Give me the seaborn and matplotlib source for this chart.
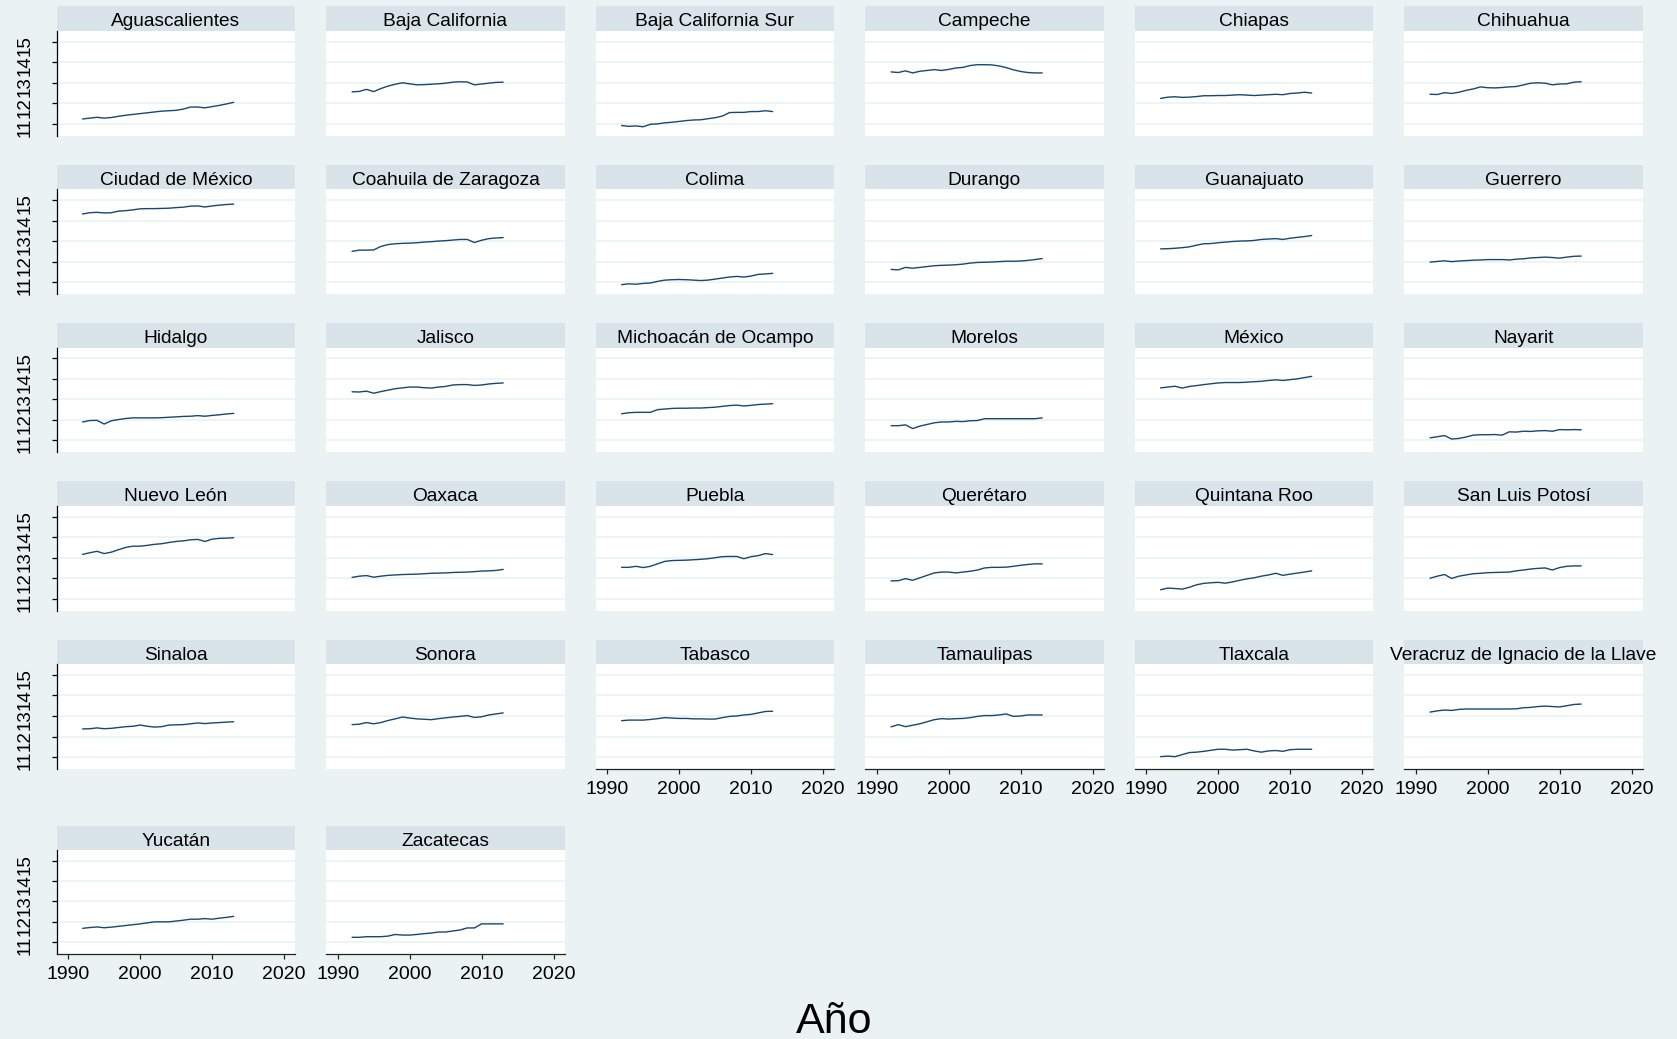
import pandas as pd
import matplotlib.pyplot as plt
from matplotlib.patches import Rectangle
import seaborn as sns

# Years on the x axis
anios = [1992, 1993, 1994, 1995, 1996, 1997, 1998, 1999, 2000, 2001, 2002,
         2003, 2004, 2005, 2006, 2007, 2008, 2009, 2010, 2011, 2012, 2013]

estados = ["Aguascalientes", "Baja California", "Baja California Sur", "Campeche",
           "Chiapas", "Chihuahua", "Ciudad de México", "Coahuila de Zaragoza",
           "Colima", "Durango", "Guanajuato", "Guerrero", "Hidalgo", "Jalisco",
           "Michoacán de Ocampo", "Morelos", "México", "Nayarit", "Nuevo León",
           "Oaxaca", "Puebla", "Querétaro", "Quintana Roo", "San Luis Potosí",
           "Sinaloa", "Sonora", "Tabasco", "Tamaulipas", "Tlaxcala",
           "Veracruz de Ignacio de la Llave", "Yucatán", "Zacatecas"]

# Values, one list per state (1992-2013)
aguascalientes = [11.24, 11.28, 11.32, 11.28, 11.31, 11.37, 11.42, 11.46, 11.50, 11.54, 11.58,
                  11.62, 11.64, 11.66, 11.72, 11.82, 11.82, 11.78, 11.84, 11.90, 11.97, 12.05]
baja_california = [12.56, 12.58, 12.68, 12.57, 12.72, 12.84, 12.93, 13.00, 12.95, 12.90, 12.91,
                   12.93, 12.95, 12.98, 13.03, 13.05, 13.04, 12.90, 12.94, 12.98, 13.02, 13.03]
baja_california_sur = [10.92, 10.88, 10.90, 10.86, 10.98, 11.00, 11.05, 11.08, 11.12, 11.16, 11.19,
                       11.20, 11.25, 11.30, 11.38, 11.55, 11.56, 11.56, 11.60, 11.60, 11.64, 11.60]
campeche = [13.53, 13.50, 13.58, 13.48, 13.56, 13.60, 13.64, 13.60, 13.65, 13.72, 13.75,
            13.84, 13.88, 13.88, 13.87, 13.82, 13.74, 13.63, 13.55, 13.50, 13.48, 13.48]
chiapas = [12.24, 12.30, 12.32, 12.29, 12.30, 12.33, 12.37, 12.37, 12.38, 12.38, 12.40,
           12.42, 12.40, 12.38, 12.40, 12.42, 12.44, 12.42, 12.48, 12.50, 12.54, 12.50]
chihuahua = [12.44, 12.43, 12.52, 12.48, 12.54, 12.63, 12.70, 12.80, 12.76, 12.75, 12.77,
             12.80, 12.82, 12.90, 12.98, 13.00, 12.98, 12.90, 12.94, 12.95, 13.03, 13.05]
ciudad_de_mexico = [14.32, 14.38, 14.40, 14.37, 14.38, 14.46, 14.48, 14.52, 14.57, 14.58, 14.58,
                    14.59, 14.60, 14.63, 14.65, 14.70, 14.71, 14.66, 14.71, 14.75, 14.78, 14.80]
coahuila = [12.50, 12.56, 12.56, 12.57, 12.74, 12.83, 12.87, 12.89, 12.90, 12.92, 12.95,
            12.97, 13.00, 13.02, 13.05, 13.08, 13.08, 12.93, 13.04, 13.12, 13.15, 13.17]
colima = [10.88, 10.92, 10.90, 10.94, 10.96, 11.04, 11.10, 11.12, 11.13, 11.12, 11.10,
          11.08, 11.10, 11.15, 11.20, 11.25, 11.28, 11.25, 11.30, 11.38, 11.40, 11.43]
durango = [11.62, 11.60, 11.72, 11.68, 11.72, 11.76, 11.80, 11.82, 11.83, 11.85, 11.88,
           11.93, 11.96, 11.97, 11.98, 12.00, 12.02, 12.02, 12.03, 12.06, 12.10, 12.15]
guanajuato = [12.62, 12.63, 12.65, 12.68, 12.72, 12.80, 12.87, 12.88, 12.92, 12.95, 12.98,
              13.00, 13.01, 13.03, 13.08, 13.10, 13.12, 13.08, 13.14, 13.18, 13.22, 13.27]
guerrero = [11.98, 12.01, 12.04, 12.00, 12.03, 12.05, 12.07, 12.08, 12.10, 12.10, 12.10,
            12.08, 12.12, 12.14, 12.18, 12.20, 12.22, 12.20, 12.17, 12.22, 12.26, 12.27]
hidalgo = [11.90, 11.97, 11.98, 11.80, 11.96, 12.02, 12.07, 12.10, 12.10, 12.10, 12.10,
           12.11, 12.13, 12.15, 12.17, 12.18, 12.21, 12.18, 12.22, 12.25, 12.29, 12.32]
jalisco = [13.37, 13.36, 13.40, 13.30, 13.38, 13.45, 13.52, 13.56, 13.60, 13.60, 13.57,
           13.55, 13.60, 13.63, 13.70, 13.72, 13.72, 13.68, 13.70, 13.75, 13.78, 13.80]
michoacan = [12.30, 12.35, 12.37, 12.37, 12.37, 12.50, 12.53, 12.56, 12.57, 12.57, 12.58,
             12.58, 12.60, 12.62, 12.66, 12.70, 12.72, 12.68, 12.71, 12.75, 12.77, 12.79]
morelos = [11.72, 11.72, 11.76, 11.58, 11.70, 11.78, 11.86, 11.90, 11.90, 11.93, 11.92,
           11.96, 11.97, 12.06, 12.06, 12.06, 12.06, 12.06, 12.06, 12.06, 12.06, 12.10]
mexico = [13.56, 13.60, 13.64, 13.55, 13.63, 13.67, 13.72, 13.76, 13.80, 13.82, 13.82,
          13.82, 13.84, 13.86, 13.88, 13.92, 13.95, 13.92, 13.96, 14.00, 14.06, 14.12]
nayarit = [11.13, 11.18, 11.24, 11.07, 11.10, 11.17, 11.26, 11.28, 11.28, 11.29, 11.26,
           11.42, 11.41, 11.45, 11.44, 11.47, 11.48, 11.45, 11.53, 11.52, 11.53, 11.52]
nuevo_leon = [13.16, 13.24, 13.31, 13.20, 13.27, 13.39, 13.50, 13.56, 13.56, 13.60, 13.65,
              13.68, 13.74, 13.79, 13.82, 13.87, 13.89, 13.79, 13.90, 13.94, 13.95, 13.97]
oaxaca = [12.04, 12.10, 12.13, 12.05, 12.10, 12.14, 12.16, 12.18, 12.19, 12.20, 12.22,
          12.24, 12.25, 12.26, 12.28, 12.29, 12.30, 12.32, 12.35, 12.36, 12.38, 12.43]
puebla = [12.53, 12.53, 12.58, 12.52, 12.58, 12.70, 12.82, 12.86, 12.87, 12.88, 12.90,
          12.92, 12.95, 13.00, 13.05, 13.06, 13.06, 12.95, 13.05, 13.10, 13.20, 13.15]
queretaro = [11.87, 11.88, 11.98, 11.90, 12.02, 12.14, 12.26, 12.30, 12.30, 12.26, 12.30,
             12.34, 12.40, 12.50, 12.53, 12.53, 12.54, 12.58, 12.63, 12.67, 12.70, 12.70]
quintana_roo = [11.44, 11.52, 11.50, 11.47, 11.56, 11.68, 11.75, 11.78, 11.80, 11.76, 11.82,
                11.90, 11.97, 12.02, 12.10, 12.16, 12.24, 12.14, 12.20, 12.25, 12.30, 12.36]
san_luis_potosi = [12.00, 12.10, 12.18, 11.99, 12.10, 12.16, 12.22, 12.24, 12.27, 12.28, 12.29,
                   12.30, 12.36, 12.40, 12.45, 12.48, 12.50, 12.40, 12.52, 12.58, 12.60, 12.60]
sinaloa = [12.37, 12.38, 12.42, 12.38, 12.40, 12.44, 12.48, 12.50, 12.56, 12.50, 12.46,
           12.48, 12.56, 12.57, 12.58, 12.62, 12.66, 12.63, 12.66, 12.68, 12.70, 12.72]
sonora = [12.58, 12.60, 12.68, 12.62, 12.68, 12.78, 12.86, 12.95, 12.90, 12.86, 12.84,
          12.82, 12.87, 12.91, 12.95, 12.98, 13.02, 12.93, 12.96, 13.05, 13.10, 13.15]
tabasco = [12.77, 12.80, 12.80, 12.80, 12.83, 12.87, 12.92, 12.90, 12.88, 12.88, 12.86,
           12.86, 12.85, 12.85, 12.92, 12.98, 13.00, 13.05, 13.08, 13.15, 13.22, 13.23]
tamaulipas = [12.47, 12.58, 12.48, 12.55, 12.62, 12.72, 12.82, 12.87, 12.85, 12.87, 12.88,
              12.92, 12.98, 13.02, 13.02, 13.05, 13.10, 12.98, 13.00, 13.05, 13.05, 13.05]
tlaxcala = [11.02, 11.05, 11.02, 11.12, 11.22, 11.24, 11.28, 11.33, 11.38, 11.38, 11.34,
            11.36, 11.38, 11.30, 11.24, 11.30, 11.32, 11.28, 11.36, 11.38, 11.38, 11.38]
veracruz = [13.19, 13.25, 13.29, 13.27, 13.32, 13.34, 13.34, 13.34, 13.34, 13.34, 13.34,
            13.34, 13.35, 13.40, 13.42, 13.46, 13.48, 13.46, 13.44, 13.50, 13.56, 13.58]
yucatan = [11.68, 11.72, 11.75, 11.71, 11.74, 11.78, 11.82, 11.86, 11.90, 11.95, 12.00,
           12.00, 12.00, 12.04, 12.08, 12.13, 12.13, 12.16, 12.13, 12.18, 12.22, 12.27]
zacatecas = [11.24, 11.24, 11.27, 11.27, 11.27, 11.30, 11.38, 11.35, 11.35, 11.38, 11.42,
             11.45, 11.50, 11.50, 11.55, 11.60, 11.70, 11.70, 11.90, 11.90, 11.90, 11.90]

series = [aguascalientes, baja_california, baja_california_sur, campeche, chiapas,
          chihuahua, ciudad_de_mexico, coahuila, colima, durango, guanajuato, guerrero,
          hidalgo, jalisco, michoacan, morelos, mexico, nayarit, nuevo_leon, oaxaca,
          puebla, queretaro, quintana_roo, san_luis_potosi, sinaloa, sonora, tabasco,
          tamaulipas, tlaxcala, veracruz, yucatan, zacatecas]

x_ticks = [1990, 2000, 2010, 2020]
y_ticks = [11, 12, 13, 14, 15]

# long table for seaborn
rows = []
for estado, valores in zip(estados, series):
    for anio, v in zip(anios, valores):
        rows.append((estado, anio, v))
df = pd.DataFrame(rows, columns=["estado", "anio", "valor"])

# Colours (Stata s2color look)
BG = "#eaf2f3"
STRIP = "#d8e4ea"
GRID = "#eaf2f3"
LINE = "#1a476f"

W, H = 1677, 1039

sns.set_theme(style="white")
plt.rcParams["font.family"] = ["Liberation Sans", "DejaVu Sans"]
plt.rcParams["text.color"] = "black"

g = sns.relplot(data=df, x="anio", y="valor", col="estado", col_order=estados,
                col_wrap=6, kind="line", color=LINE, linewidth=1.0,
                height=2, aspect=1.5,
                facet_kws=dict(sharex=True, sharey=True, despine=False))
fig = g.figure
fig.set_size_inches(W / 100, H / 100)
fig.patch.set_facecolor(BG)
g.set_titles("")
g.set_axis_labels("", "")
g.set(xlim=(1988.4, 2021.55), ylim=(10.42, 15.52), xticks=x_ticks, yticks=y_ticks)

# panel layout in pixels
plot_top = [31.0, 189.3, 347.6, 505.9, 664.2, 850.2]
plot_bot = [135.8, 294.1, 452.4, 610.7, 769.0, 954.0]
col_w = 238.5

n = len(estados)
for i, ax in enumerate(g.axes.flat):
    r, c = divmod(i, 6)
    left = 56.7 + 269.5 * c
    ph = plot_bot[r] - plot_top[r]
    ax.set_position([left / W, 1 - plot_bot[r] / H, col_w / W, ph / H])
    ax.set_facecolor("white")

    is_left = c == 0
    is_bottom = i + 6 >= n
    for s in ax.spines.values():
        s.set_visible(False)
    if is_left:
        ax.spines["left"].set_visible(True)
        ax.spines["left"].set_color("black")
        ax.spines["left"].set_linewidth(0.9)
    if is_bottom:
        ax.spines["bottom"].set_visible(True)
        ax.spines["bottom"].set_color("#222222")
        ax.spines["bottom"].set_linewidth(0.9)

    ax.tick_params(axis="y", left=is_left, labelleft=is_left, length=3.5,
                   width=0.9, color="black", labelcolor="black", labelsize=13.5,
                   labelrotation=90, pad=13)
    ax.tick_params(axis="x", bottom=is_bottom, labelbottom=is_bottom, length=3.5,
                   width=0.9, color="#222222", labelcolor="black", labelsize=14, pad=5)
    ax.yaxis.grid(True, color=GRID, linewidth=1.2)
    ax.xaxis.grid(False)
    ax.set_axisbelow(True)

    # strip title
    sh = 24.6 / ph
    ax.add_patch(Rectangle((0, 1), 1, sh, transform=ax.transAxes, clip_on=False,
                           facecolor=STRIP, edgecolor="none"))
    ax.text(0.5, 1 + 4.5 / ph, estados[i], transform=ax.transAxes, ha="center",
            va="baseline", fontsize=13.8, color="black")

fig.text(834.5 / W, 1 - 1032.7 / H, "Año", ha="center", va="baseline", fontsize=31,
         color="black")

fig.savefig("out.png", dpi=100, facecolor=BG)
